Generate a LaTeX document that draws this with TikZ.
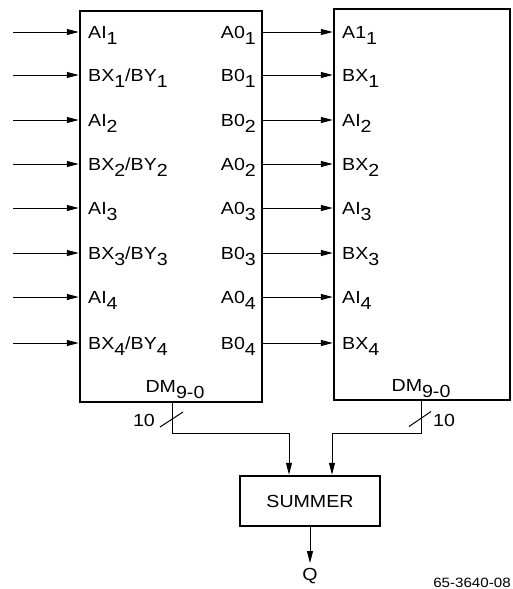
\documentclass[tikz,border=0pt]{standalone}
\usepackage{fontspec}
\setmainfont{Liberation Sans}[FakeStretch=1.12]
\usetikzlibrary{arrows.meta}

\newcommand{\sbs}[1]{\raisebox{-6.5pt}{#1}}

\begin{document}
\begin{tikzpicture}[x=1pt,y=-1pt,
	every node/.style={font=\fontsize{17.5}{21}\selectfont, inner sep=0pt},
	block/.style={draw, line width=2.5pt},
	sig/.style={-{Triangle[length=12pt,width=6pt]}, line width=1pt}]

\useasboundingbox (0,0) rectangle (512,589);

\node[block, minimum width=182pt, minimum height=391pt] (demuxA) at (171,206.5) {};
\node[block, minimum width=176pt, minimum height=391pt] (demuxB) at (422,204.5) {};
\node[block, minimum width=140pt, minimum height=50pt] (summer) at (310,501) {SUMMER};

\foreach \i/\y/\inA/\outA/\inB in {1/32/AI\sbs{1}/A0\sbs{1}/A1\sbs{1},
					2/75/{BX\sbs{1}/BY\sbs{1}}/B0\sbs{1}/BX\sbs{1},
					3/120/AI\sbs{2}/B0\sbs{2}/AI\sbs{2},
					4/164/{BX\sbs{2}/BY\sbs{2}}/A0\sbs{2}/BX\sbs{2},
					5/208/AI\sbs{3}/A0\sbs{3}/AI\sbs{3},
					6/253/{BX\sbs{3}/BY\sbs{3}}/B0\sbs{3}/BX\sbs{3},
					7/297/AI\sbs{4}/A0\sbs{4}/AI\sbs{4},
					8/343/{BX\sbs{4}/BY\sbs{4}}/B0\sbs{4}/BX\sbs{4}}
{
	\coordinate (src\i) at (13,\y);
	\node[anchor=base west] (inA\i) at (88,\y+6.3) {\inA};
	\node[anchor=base east] (outA\i) at (256,\y+6.3) {\outA};
	\node[anchor=base west] (inB\i) at (342,\y+6.3) {\inB};
	\draw[sig] (src\i) -- (src\i -| demuxA.west);
	\draw[sig] (src\i -| demuxA.east) -- (src\i -| demuxB.west);
};

\node[anchor=base] (dmA) at (175,392) {DM\sbs{9-0}};
\node[anchor=base] (dmB) at (421,391) {DM\sbs{9-0}};

% buses into the summer
\coordinate (busA) at (172,419.5);
\coordinate (busB) at (421,419);
\draw[sig] (demuxA.south -| busA) -- (172,433) -| ([xshift=-21pt]summer.north);
\draw[sig] (demuxB.south -| busB) -- (421,433) -| ([xshift=22pt]summer.north);
\draw[line width=1pt] ([shift={(-12,7.5)}]busA) -- ([shift={(11,-7.5)}]busA);
\draw[line width=1pt] ([shift={(-12,7.5)}]busB) -- ([shift={(10,-7.5)}]busB);
\node[anchor=east] (wA) at (155,420.5) {10};
\node[anchor=west] (wB) at (433,420.5) {10};

\node (q) at (310,576) {Q};
\draw[sig] (summer.south) -- ([yshift=5pt]q.north);

\node[anchor=base, font=\fontsize{13.5}{16}\selectfont] (code) at (472,587) {65-3640-08};
\end{tikzpicture}
\end{document}
